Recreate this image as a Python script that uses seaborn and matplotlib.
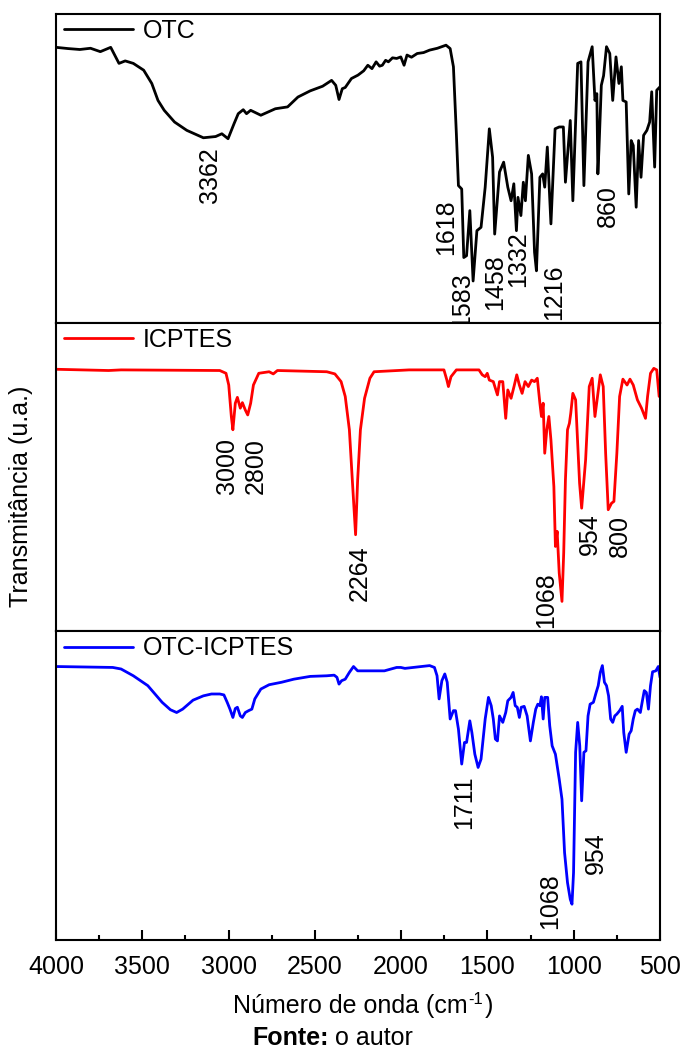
import matplotlib
matplotlib.use("Agg")
import matplotlib.pyplot as plt
from matplotlib.ticker import MultipleLocator
import pandas as pd
import seaborn as sns

# ---------------- FTIR spectra (wavenumber in cm-1, transmittance in a.u.) ----------------
otc_wn = [4000, 3930, 3862, 3800, 3743, 3683, 3635, 3599, 3552, 3492, 3445, 3409, 3373, 3313,
          3242, 3146, 3075, 3039, 3003, 2968, 2944, 2915, 2896, 2872, 2813, 2729, 2658, 2598,
          2527, 2455, 2403, 2379, 2360, 2341, 2324, 2288, 2250, 2217, 2193, 2169, 2145, 2125,
          2109, 2090, 2074, 2050, 2026, 2002, 1983, 1966, 1940, 1907, 1870, 1835, 1790, 1740,
          1716, 1697, 1680, 1668, 1649,
          1637, 1621, 1602, 1583, 1561, 1537, 1513, 1489, 1470, 1458, 1430, 1406, 1382,
          1363, 1347, 1332, 1323, 1306, 1292, 1280, 1263, 1244, 1227, 1216, 1196, 1180,
          1168, 1153, 1132, 1108, 1084, 1060, 1048, 1020, 1005, 977, 958, 941, 917, 893,
          877, 866, 854, 860, 840, 827, 810, 791, 774, 755, 738, 724, 715, 696, 681, 667,
          655, 638, 624, 610, 595, 576, 560, 548, 531, 519, 500]
otc_t = [89.2, 88.8, 88.5, 88.9, 87.8, 89.2, 84.0, 84.8, 84.0, 81.8, 77.5, 72.0, 68.8, 65.0,
         62.3, 59.9, 60.3, 61.2, 59.6, 64.5, 67.7, 69.0, 67.7, 68.8, 67.2, 69.3, 69.9, 73.1,
         75.1, 76.6, 78.5, 76.9, 72.3, 75.8, 76.2, 79.1, 80.2, 81.6, 83.4, 82.3, 84.5, 83.1,
         83.4, 85.0, 84.5, 85.8, 85.6, 86.1, 83.4, 86.7, 86.0, 87.2, 87.5, 88.3, 88.9, 89.9,
         88.8, 82.9, 61.2, 44.4, 43.3,
         21.1, 21.7, 36.3, 13.5, 29.8, 30.9, 43.9, 62.8, 53.6, 28.7, 48.8, 52.0, 43.9,
         39.5, 45.0, 29.8, 40.6, 34.7, 45.5, 39.5, 54.2, 48.2, 22.8, 16.8, 47.1, 48.2,
         43.9, 56.9, 32.0, 62.8, 63.4, 63.4, 45.5, 65.5, 39.5, 84.0, 84.5, 44.4, 84.5, 89.4,
         72.0, 74.2, 55.8, 48.2, 76.9, 80.0, 89.4, 87.2, 72.0, 86.1, 77.5, 82.9, 72.0, 71.5,
         41.7, 59.0, 57.4, 37.4, 59.0, 47.1, 60.7, 62.3, 65.0, 74.8, 50.4, 75.3, 76.4]

icptes_wn = [4000, 3695, 3623, 3051, 3015, 2999, 2984, 2975, 2961, 2949, 2932, 2920, 2903,
             2889, 2872, 2856, 2825, 2765, 2741, 2717, 2431, 2384, 2348, 2324, 2300, 2283,
             2264, 2252, 2236, 2212, 2181, 2157, 1954, 1752, 1735, 1726, 1711, 1680, 1549,
             1530, 1513, 1501, 1489, 1466, 1442, 1430, 1411, 1394, 1382, 1363, 1346, 1330,
             1315, 1299, 1282, 1263, 1244, 1227, 1211, 1196, 1187, 1177, 1168, 1156, 1144,
             1132, 1115, 1106, 1096, 1084, 1068, 1058, 1048, 1036, 1025, 1017, 1005, 989,
             977, 966, 954, 931, 910, 893, 877, 862, 846, 829, 815, 800, 781, 767, 750, 734,
             715, 691, 674, 655, 631, 607, 584, 572, 555, 536, 519, 505]
icptes_t = [84.9, 84.5, 84.7, 84.5, 83.6, 79.8, 69.6, 65.3, 73.9, 75.8, 72.3, 74.1, 71.7,
            70.1, 73.9, 79.8, 83.6, 84.1, 83.4, 84.5, 84.1, 83.4, 80.9, 76.1, 65.3, 49.1,
            31.3, 49.1, 65.3, 75.5, 82.0, 84.1, 84.7, 84.7, 81.4, 79.3, 82.5, 84.7, 84.7,
            83.1, 82.5, 83.6, 81.4, 80.9, 76.6, 80.9, 80.9, 69.0, 78.2, 75.5, 79.3, 83.1,
            79.8, 77.1, 80.9, 79.3, 81.4, 80.9, 82.0, 73.9, 69.6, 73.9, 57.7, 65.3, 69.6,
            62.0, 46.9, 27.5, 32.4, 18.9, 9.7, 25.4, 49.1, 65.3, 67.4, 70.7, 77.1, 75.0,
            60.9, 48.0, 39.9, 55.6, 79.3, 82.0, 69.6, 76.1, 83.1, 79.3, 57.7, 39.4, 41.5,
            42.1, 57.7, 76.1, 81.7, 79.8, 81.7, 79.8, 75.0, 72.3, 69.0, 76.1, 83.6, 85.2,
            84.7, 76.1]

hybrid_wn = [4000, 3671, 3623, 3552, 3468, 3385, 3337, 3301, 3266, 3206, 3146, 3099, 3051,
             3027, 3008, 2992, 2975, 2961, 2949, 2932, 2920, 2903, 2884, 2865, 2848, 2813,
             2765, 2693, 2622, 2527, 2431, 2388, 2372, 2360, 2345, 2324, 2300, 2276, 2252,
             2193, 2097, 2026, 2002, 1978, 1835, 1807, 1792, 1780, 1764, 1747, 1733, 1716,
             1697, 1685, 1668, 1649, 1633, 1621, 1602, 1590, 1573, 1554, 1537, 1513, 1494,
             1478, 1466, 1454, 1442, 1430, 1411, 1394, 1382, 1363, 1351, 1339, 1327, 1315,
             1304, 1287, 1270, 1251, 1234, 1220, 1208, 1196, 1187, 1177, 1168, 1151, 1139,
             1125, 1106, 1084, 1068, 1053, 1036, 1020, 1010, 1001, 989, 977, 965, 954, 941,
             929, 917, 905, 886, 870, 858, 846, 834, 822, 810, 798, 786, 774, 762, 750, 734,
             719, 710, 696, 679, 667, 655, 643, 631, 614, 600, 591, 579, 567, 555, 543, 524,
             510, 500]
hybrid_t = [88.6, 88.3, 87.8, 85.6, 82.4, 77.0, 74.6, 73.7, 74.8, 77.7, 79.1, 79.7, 79.7,
            79.4, 77.0, 74.8, 72.1, 75.0, 75.4, 72.6, 72.1, 73.7, 74.3, 74.8, 78.1, 81.3,
            82.7, 83.5, 84.5, 85.4, 85.6, 85.8, 85.1, 82.9, 84.0, 84.5, 86.7, 88.6, 87.2,
            87.2, 87.2, 88.3, 88.3, 88.0, 88.9, 88.3, 85.6, 78.1, 84.0, 86.2, 83.5, 71.6,
            74.3, 74.3, 68.3, 57.0, 64.0, 64.0, 71.0, 67.2, 60.2, 55.9, 58.6, 71.6, 78.6,
            75.9, 71.6, 65.1, 64.5, 72.6, 70.5, 73.7, 77.5, 78.6, 80.2, 75.9, 75.4, 72.1,
            75.4, 75.7, 72.6, 64.5, 70.5, 74.8, 76.4, 75.9, 78.8, 71.6, 78.6, 78.6, 69.4,
            62.9, 60.2, 52.1, 45.6, 28.3, 18.6, 13.2, 11.6, 21.8, 60.8, 70.5, 62.9, 45.1, 60.8,
            61.3, 72.6, 76.4, 77.0, 80.2, 82.4, 86.7, 88.9, 83.5, 82.4, 79.1, 71.6, 70.5,
            72.6, 73.2, 74.3, 75.7, 67.2, 60.8, 66.7, 67.8, 71.6, 74.3, 74.8, 73.7, 78.1,
            80.8, 80.2, 74.8, 82.4, 86.9, 87.2, 88.6, 85.1]

# ---------------- band assignments (text, anchor wavenumber, anchor transmittance) ----------------
otc_bands = ["3362", "1618", "1583", "1458", "1332", "1216", "860"]
otc_band_wn = [3105, 1737, 1645, 1453, 1320, 1111, 804]
otc_band_t = [56.9, 39.9, 16.3, 22.2, 29.7, 19.0, 44.4]

icptes_bands = ["3000", "2800", "2264", "1068", "954", "800"]
icptes_band_wn = [3012, 2844, 2241, 1157, 908, 734]
icptes_band_t = [62.6, 62.6, 27.7, 19.0, 38.4, 37.7]

hybrid_bands = ["1711", "1068", "954"]
hybrid_band_wn = [1633, 1134, 873]
hybrid_band_t = [53.2, 21.6, 34.8]

series_names = ["OTC", "ICPTES", "OTC-ICPTES"]
series_colors = ["#000000", "#ff0000", "#0000ff"]

sns.set_style("white")
plt.rcParams["font.family"] = ["Liberation Sans", "DejaVu Sans"]
plt.rcParams["text.color"] = "black"
plt.rcParams["xtick.color"] = "black"
plt.rcParams["axes.labelcolor"] = "black"
plt.rcParams["axes.linewidth"] = 1.5
FS = 18
LW = 2.0

fig, axes = plt.subplots(3, 1, figsize=(6.83, 10.48), dpi=100, sharex=True)
fig.subplots_adjust(left=56 / 683, right=660 / 683, top=1 - 14 / 1048,
                    bottom=1 - 940 / 1048, hspace=0)

panels = [
    (otc_wn, otc_t, otc_bands, otc_band_wn, otc_band_t),
    (icptes_wn, icptes_t, icptes_bands, icptes_band_wn, icptes_band_t),
    (hybrid_wn, hybrid_t, hybrid_bands, hybrid_band_wn, hybrid_band_t),
]

for ax, (wn, tr, bands, bwn, bt), name, color in zip(axes, panels, series_names, series_colors):
    df = pd.DataFrame({"wn": wn, "t": tr})
    sns.lineplot(data=df, x="wn", y="t", ax=ax, color=color, linewidth=LW,
                 label=name, estimator=None)
    for txt, x, y in zip(bands, bwn, bt):
        ax.text(x, y, txt, rotation=90, ha="center", va="top", fontsize=FS, color="black")
    ax.set_ylim(0, 100)
    ax.set_xlim(4000, 500)
    ax.set_yticks([])
    ax.set_ylabel("")
    ax.set_xlabel("")
    for sp in ax.spines.values():
        sp.set_visible(True)
        sp.set_color("black")
        sp.set_linewidth(1.5)
    leg = ax.legend(loc="upper left", bbox_to_anchor=(8 / 604, 1 - 5 / 306),
                    borderaxespad=0, borderpad=0, frameon=False, fontsize=FS,
                    handlelength=2.75, handletextpad=0.4)
    for line in leg.get_lines():
        line.set_linewidth(LW)
    for t in leg.get_texts():
        t.set_color("black")
    ax.tick_params(axis="x", which="both", bottom=False, top=False, labelbottom=False)

bottom_ax = axes[-1]
bottom_ax.xaxis.set_major_locator(MultipleLocator(500))
bottom_ax.xaxis.set_minor_locator(MultipleLocator(250))
bottom_ax.tick_params(axis="x", which="major", bottom=True, direction="in", length=7.5,
                      width=1.5, labelbottom=True, labelsize=FS, pad=11, colors="black")
bottom_ax.tick_params(axis="x", which="minor", bottom=True, direction="in", length=3.8,
                      width=1.5)

fig.text(21 / 683, 1 - 496 / 1048, "Transmitância (u.a.)", rotation=90,
         ha="center", va="center", fontsize=FS)

# x-axis title with a small raised "-1"
fig.canvas.draw()
renderer = fig.canvas.get_renderer()
base_y = 1 - 1013 / 1048
t_main = fig.text(233 / 683, base_y, "Número de onda (cm", ha="left", va="baseline",
                  fontsize=FS)
x_end = t_main.get_window_extent(renderer).x1
t_sup = fig.text(x_end / fig.bbox.width + 1 / 683, base_y + 9 / 1048, "-1", ha="left",
                 va="baseline", fontsize=12)
x_end = t_sup.get_window_extent(renderer).x1
fig.text(x_end / fig.bbox.width + 1 / 683, base_y, ")", ha="left", va="baseline",
         fontsize=FS)

# source line
src_y = 1 - 1045 / 1048
src = fig.text(252 / 683, src_y, "Fonte:", ha="left", va="baseline",
               fontsize=FS, fontweight="bold")
x_end = src.get_window_extent(renderer).x1
fig.text(x_end / fig.bbox.width, src_y, " o autor", ha="left", va="baseline",
         fontsize=FS)

fig.savefig("out.png", dpi=100)
